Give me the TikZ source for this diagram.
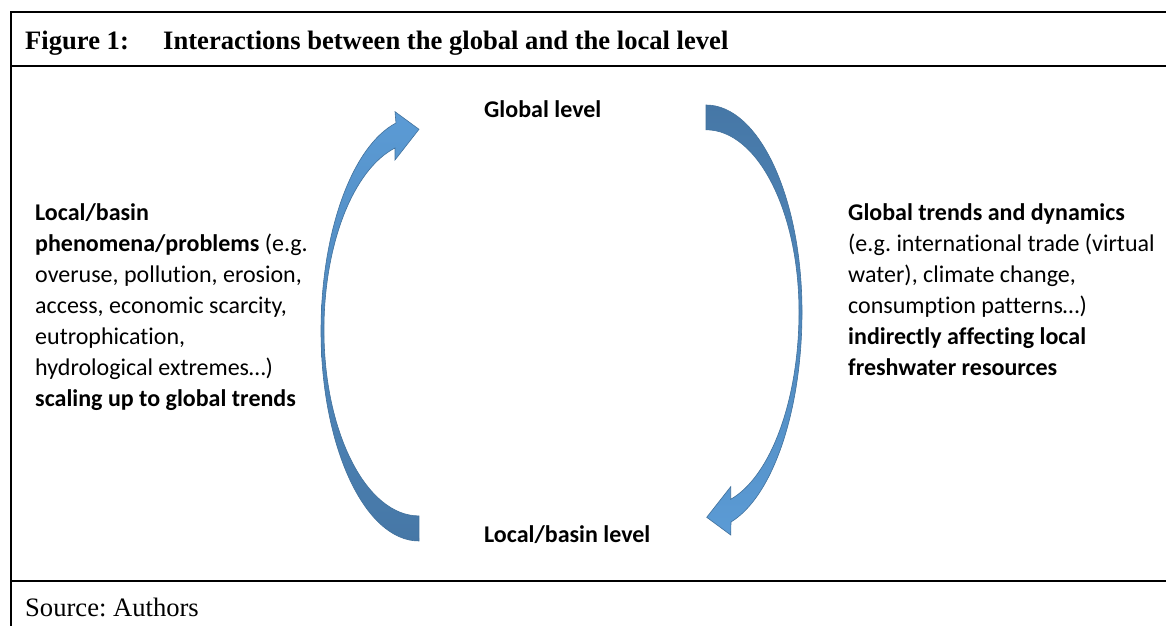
\documentclass[tikz,border=0pt]{standalone}
\usepackage{fontspec}
\setmainfont{Carlito}[Ligatures=CommonOff]
\newfontfamily\timesfont{Liberation Serif}
\usepackage{tikz}
\usepackage{xcolor}
\frenchspacing
\definecolor{arrowlight}{HTML}{5B9BD5}
\definecolor{arrowdark}{HTML}{4677A6}
\definecolor{arrowedge}{HTML}{41719C}
\tikzstyle{framerule} = [line width=2.5pt, black]
\tikzstyle{blockarrow} = [draw=arrowedge, line width=0.6pt, line join=miter]
\tikzstyle{bodytext} = [inner sep=0pt, anchor=base west,
    font=\fontsize{24}{31}\selectfont]
\tikzstyle{headtext} = [inner sep=0pt, anchor=base west,
    font=\timesfont\fontsize{26.6}{32}\selectfont]

\begin{document}
\begin{tikzpicture}[x=1pt, y=1pt]
    \useasboundingbox (0,0) rectangle (1166,626);
    \fill[white] (0,0) rectangle (1166,626);
    \draw[framerule] (1166,614) -- (11,614) -- (11,0);
    \draw[framerule] (11,560) -- (1166,560);
    \draw[framerule] (11,45) -- (1166,45);
    \node[headtext] (fignum) at (25,576) {\bfseries Figure 1:};
    \node[headtext] (figtitle) at (163,576)
        {\bfseries Interactions between the global and the local level};
    \node[headtext] (source) at (25,10) {Source: Authors};
    \node[bodytext] (global) at (484,508) {\bfseries Global level};
    \node[bodytext] (local) at (484,83) {\bfseries Local/basin level};
    \node[bodytext] (localtext) at (35,405){
        \begin{minipage}[t]{300pt}\raggedright
            \textbf{Local/basin}\\
            \textbf{phenomena/problems} (e.g.\\
            overuse, pollution, erosion,\\
            access, economic scarcity,\\
            eutrophication,\\
            hydrological extremes…)\\
            \textbf{scaling up to global trends}
        \end{minipage}
    };
    \node[bodytext] (globaltext) at (848,405){
        \begin{minipage}[t]{340pt}\raggedright
            \textbf{Global trends and dynamics}\\
            (e.g. international trade (virtual\\
            water), climate change,\\
            consumption patterns…)\\
            \textbf{indirectly affecting local}\\
            \textbf{freshwater resources}
        \end{minipage}
    };
    \draw[blockarrow, top color=arrowlight, bottom color=arrowdark] (419,85)
        arc[start angle=270, end angle=180, x radius=98, y radius=210]
        arc[start angle=180, end angle=103.6, x radius=98, y radius=214]
        -- (395,514.3) -- (419,496.7) -- (395,466) -- (395,478)
        arc[start angle=104.6, end angle=180, x radius=95, y radius=188]
        arc[start angle=180, end angle=270, x radius=95, y radius=186]
        -- cycle;
    \draw[blockarrow, top color=arrowdark, bottom color=arrowlight] (706,521)
        arc[start angle=90, end angle=0, x radius=96, y radius=207]
        arc[start angle=0, end angle=-74.9, x radius=96, y radius=217.5]
        -- (730.7,91) -- (706.7,108.7) -- (730.7,139.3) -- (730.7,126.7)
        arc[start angle=-74.6, end angle=0, x radius=93, y radius=194.5]
        arc[start angle=0, end angle=90, x radius=93, y radius=182]
        -- cycle;
\end{tikzpicture}
\end{document}
